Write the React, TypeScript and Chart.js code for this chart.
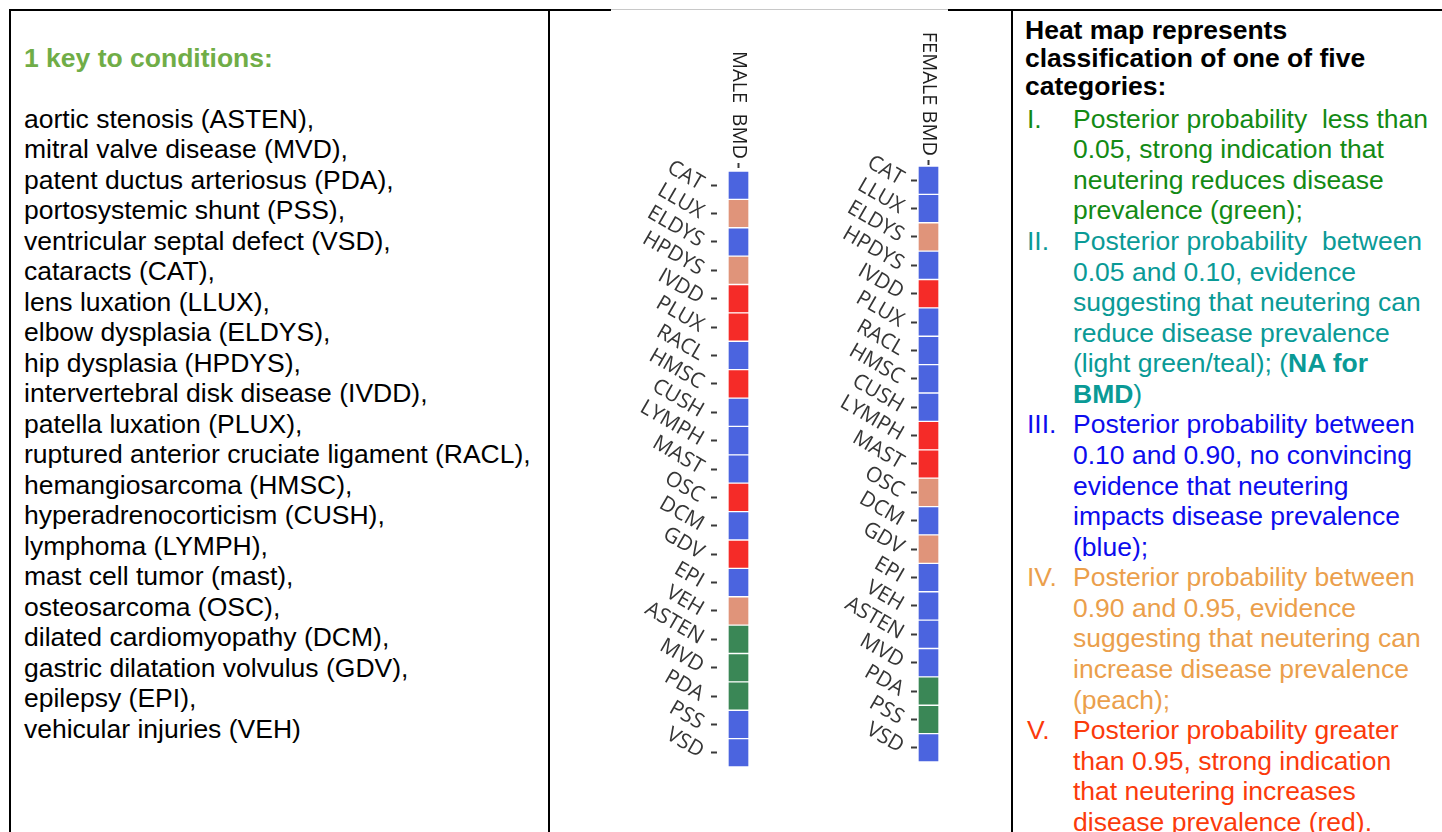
import React, { useEffect, useRef } from 'react';
import { Chart, registerables } from 'chart.js';

Chart.register(...registerables);

// ---------- data ----------
const categories = ['CAT', 'LLUX', 'ELDYS', 'HPDYS', 'IVDD', 'PLUX', 'RACL', 'HMSC', 'CUSH', 'LYMPH', 'MAST', 'OSC', 'DCM', 'GDV', 'EPI', 'VEH', 'ASTEN', 'MVD', 'PDA', 'PSS', 'VSD'];
// classification 1..5 (I green, II teal, III blue, IV peach, V red)
const maleClass = [3, 4, 3, 4, 5, 5, 3, 5, 3, 3, 3, 5, 3, 5, 3, 4, 1, 1, 1, 3, 3];
const femaleClass = [3, 3, 4, 3, 5, 3, 3, 3, 3, 5, 5, 4, 3, 4, 3, 3, 3, 3, 1, 1, 3];
const columnLabels = ['MALE  BMD', 'FEMALE BMD'];
const classColors = ['#3a8756', '#3aa6a0', '#4b64df', '#e0947a', '#f52b28'];

const conditionTitle = '1 key to conditions:';
const conditionLines = [
  'aortic stenosis (ASTEN),',
  'mitral valve disease (MVD),',
  'patent ductus arteriosus (PDA),',
  'portosystemic shunt (PSS),',
  'ventricular septal defect (VSD),',
  'cataracts (CAT),',
  'lens luxation (LLUX),',
  'elbow dysplasia (ELDYS),',
  'hip dysplasia (HPDYS),',
  'intervertebral disk disease (IVDD),',
  'patella luxation (PLUX),',
  'ruptured anterior cruciate ligament (RACL),',
  'hemangiosarcoma (HMSC),',
  'hyperadrenocorticism (CUSH),',
  'lymphoma (LYMPH),',
  'mast cell tumor (mast),',
  'osteosarcoma (OSC),',
  'dilated cardiomyopathy (DCM),',
  'gastric dilatation volvulus (GDV),',
  'epilepsy (EPI),',
  'vehicular injuries (VEH)',
];

const legendHeading = ['Heat map represents', 'classification of one of five', 'categories:'];
const legendNumerals = ['I.', 'II.', 'III.', 'IV.', 'V.'];
const legendColors = ['#138a14', '#0a9a96', '#0c0cee', '#eb9f4c', '#fb3a0b'];
const legendLines = [
  ['Posterior probability  less than', '0.05, strong indication that', 'neutering reduces disease', 'prevalence (green);'],
  ['Posterior probability  between', '0.05 and 0.10, evidence', 'suggesting that neutering can', 'reduce disease prevalence', '(light green/teal); (**NA for**', '**BMD**)'],
  ['Posterior probability between', '0.10 and 0.90, no convincing', 'evidence that neutering', 'impacts disease prevalence', '(blue);'],
  ['Posterior probability between', '0.90 and 0.95, evidence', 'suggesting that neutering can', 'increase disease prevalence', '(peach);'],
  ['Posterior probability greater', 'than 0.95, strong indication', 'that neutering increases', 'disease prevalence (red).'],
];

// ---------- heat column ----------
type ColProps = {
  values: number[];
  label: string;
  left: number;
  top: number;
  axisW: number;
  axisH: number;
  plotW: number;
  plotH: number;
  xMin: number;
  yMin: number;
};

const FONT = '"Open Sans", "Liberation Sans", Arial, sans-serif';

function HeatColumn(p: ColProps) {
  const ref = useRef<HTMLCanvasElement | null>(null);
  useEffect(() => {
    if (!ref.current) return;
    const labelPlugin = {
      id: 'colLabel',
      afterDraw(chart: any) {
        const ctx = chart.ctx;
        const xs = chart.scales.x;
        const px = xs.getPixelForValue(0.5);
        const py = chart.chartArea.top - 5 - 4;
        ctx.save();
        ctx.translate(px, py);
        ctx.rotate(Math.PI / 2);
        ctx.textAlign = 'right';
        ctx.textBaseline = 'middle';
        ctx.fillStyle = '#1e1e1e';
        ctx.font = `20px ${FONT}`;
        ctx.fillText(p.label, 0, 0);
        ctx.restore();
      },
    };
    const chart = new Chart(ref.current, {
      type: 'bar',
      data: {
        datasets: [
          {
            data: p.values.map((_, i) => ({ x: 1, y: i })),
            backgroundColor: p.values.map((v) => classColors[v - 1]),
            borderColor: 'rgba(255,255,255,0.35)',
            borderWidth: 1,
            borderSkipped: false,
            categoryPercentage: 1,
            barPercentage: 1,
          } as any,
        ],
      },
      options: {
        animation: false,
        responsive: false,
        indexAxis: 'y',
        layout: { padding: 0 },
        plugins: { legend: { display: false }, tooltip: { enabled: false } },
        scales: {
          x: {
            type: 'linear',
            position: 'top',
            min: p.xMin,
            max: 1,
            offset: false,
            afterBuildTicks: (s: any) => {
              s.ticks = [{ value: 0.5 }];
            },
            afterFit: (s: any) => {
              s.height = p.axisH;
              s.paddingLeft = 0;
              s.paddingRight = 0;
            },
            ticks: { display: false },
            grid: { offset: false, drawOnChartArea: false, drawTicks: true, tickLength: 5, tickWidth: 2, tickColor: '#3a3a3a' },
            border: { display: false },
          },
          y: {
            type: 'linear',
            reverse: true,
            offset: false,
            min: p.yMin,
            max: categories.length - 0.5,
            afterBuildTicks: (s: any) => {
              s.ticks = categories.map((_, i) => ({ value: i }));
            },
            afterFit: (s: any) => {
              s.width = p.axisW;
              s.paddingTop = 0;
              s.paddingBottom = 0;
            },
            ticks: {
              autoSkip: false,
              minRotation: -30,
              maxRotation: -30,
              padding: 9,
              color: '#363636',
              font: { family: FONT, size: 21 },
              callback: (v: any) => categories[Math.round(Number(v))] ?? '',
            },
            grid: { offset: false, drawOnChartArea: false, drawTicks: true, tickLength: 6, tickWidth: 2, tickColor: '#3a3a3a' },
            border: { display: false },
          },
        },
      } as any,
      plugins: [labelPlugin],
    });
    return () => chart.destroy();
  }, []);
  const w = p.axisW + p.plotW;
  const h = p.axisH + p.plotH;
  return (
    <canvas
      ref={ref}
      width={w}
      height={h}
      style={{ position: 'absolute', left: p.left, top: p.top, width: w, height: h }}
    />
  );
}

function renderRich(s: string) {
  const parts = s.split('**');
  return parts.map((t, i) => (i % 2 === 1 ? <b key={i}>{t}</b> : <span key={i}>{t}</span>));
}

const TEXT_FONT = '"Liberation Sans", Arial, Helvetica, sans-serif';
const LH = 30.5;

export default function App() {
  const line = (left: number, top: number, w: number, h: number, color = '#000') => (
    <div style={{ position: 'absolute', left, top, width: w, height: h, background: color }} />
  );

  // legend rows
  const rows: React.ReactNode[] = [];
  let r = 0;
  legendLines.forEach((lines, k) => {
    lines.forEach((t, j) => {
      const top = 103.7 + r * 30.57;
      rows.push(
        <div key={`l${k}-${j}`} style={{ position: 'absolute', left: 0, top, width: 440, height: 30.57, lineHeight: '30.57px', color: legendColors[k], whiteSpace: 'pre' }}>
          {j === 0 ? <span style={{ position: 'absolute', left: 2 }}>{legendNumerals[k]}</span> : null}
          <span style={{ position: 'absolute', left: 48 }}>{renderRich(t)}</span>
        </div>
      );
      r++;
    });
  });

  return (
    <div style={{ position: 'fixed', left: 0, top: 0, width: 1442, height: 832, overflow: 'hidden', background: '#fff' }}>
      {/* table borders */}
      {line(9, 9, 602, 2)}
      {line(611, 9, 337, 1, '#c8c8c8')}
      {line(948, 9, 494, 2)}
      {line(9, 9, 2, 823)}
      {line(548, 9, 2, 823)}
      {line(1011, 9, 2, 823)}

      {/* left column */}
      <div style={{ position: 'absolute', left: 24, top: 42.75, fontFamily: TEXT_FONT, fontSize: 26.5, lineHeight: `${LH}px`, color: '#000', whiteSpace: 'pre' }}>
        <div style={{ color: '#70ad47', fontWeight: 'bold' }}>{conditionTitle}</div>
        <div>{' '}</div>
        {conditionLines.map((t, i) => (
          <div key={i}>{t}</div>
        ))}
      </div>

      {/* heat map columns */}
      <HeatColumn values={maleClass} label={columnLabels[0]} left={607} top={10} axisW={110} axisH={158} plotW={32} plotH={599} xMin={-0.524} yMin={-0.606} />
      <HeatColumn values={femaleClass} label={columnLabels[1]} left={807} top={10} axisW={110} axisH={155} plotW={22} plotH={597} xMin={-0.048} yMin={-0.535} />

      {/* right column */}
      <div style={{ position: 'absolute', left: 1025, top: 0, width: 417, height: 832, fontFamily: TEXT_FONT, fontSize: 26.5 }}>
        <div style={{ position: 'absolute', left: 0, top: 16, lineHeight: '28px', fontWeight: 'bold', color: '#000', whiteSpace: 'pre' }}>
          {legendHeading.map((t, i) => (
            <div key={i}>{t}</div>
          ))}
        </div>
        {rows}
      </div>
    </div>
  );
}
